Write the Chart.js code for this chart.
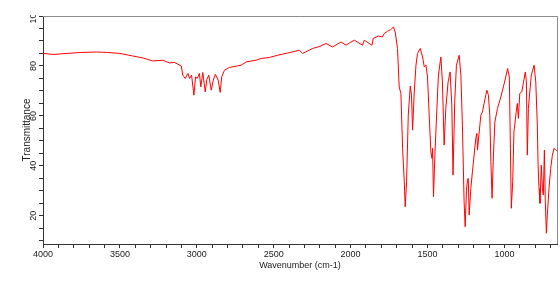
<!DOCTYPE html>
<html>
<head>
<meta charset="utf-8">
<script src="https://cdn.jsdelivr.net/npm/chart.js@4/dist/chart.umd.min.js"></script>
<style>
html,body{margin:0;padding:0;background:#fff;}
#wrap{width:560px;height:283px;}
</style>
</head>
<body>
<div id="wrap"><canvas id="c" width="560" height="283"></canvas></div>
<script>
// Wavenumber (cm-1) and transmittance
const wavenumbers = [4000,3929,3850,3750,3653,3580,3500,3417,3350,3287,3221,3177,3145,3101,3091,3075,3058,3047,3034,3019,3008,2997,2983,2974,2961,2945,2935,2922,2906,2893,2879,2861,2848,2838,2820,2788,2744,2712,2679,2614,2582,2528,2474,2400,2333,2312,2247,2200,2160,2117,2062,2030,2008,1976,1922,1911,1861,1853,1820,1794,1781,1760,1740,1721,1710,1695,1684,1673,1662,1651,1645,1636,1625,1612,1604,1597,1586,1575,1565,1547,1532,1521,1510,1500,1489,1478,1471,1467,1461,1452,1439,1429,1413,1403,1396,1392,1381,1366,1353,1342,1334,1323,1312,1294,1283,1273,1262,1255,1247,1240,1235,1229,1218,1208,1197,1186,1179,1175,1169,1153,1143,1132,1114,1104,1095,1088,1080,1073,1062,1045,1023,1001,979,968,961,955,946,938,923,916,909,900,887,877,864,857,851,844,835,825,807,796,786,781,775,769,760,753,747,740,734,727,721,710,699,688,677,666,658];
const transmittance = [85.0,84.6,85.0,85.4,85.6,85.4,85.0,84.0,83.2,82.0,82.3,81.2,81.4,80.0,76.3,75.0,77.0,75.0,76.3,68.3,75.6,75.0,77.0,71.6,77.4,69.6,74.6,76.3,70.3,74.3,76.6,74.3,69.4,75.6,78.3,79.4,79.9,80.3,81.6,82.3,83.0,83.4,84.3,85.3,86.3,85.0,87.0,87.8,89.0,87.6,89.6,88.3,89.2,90.3,88.3,90.3,88.3,91.0,92.0,91.6,93.0,93.9,94.5,95.6,93.6,87.0,71.6,69.0,47.0,33.6,23.6,33.6,60.3,72.0,68.3,54.3,69.6,80.3,85.0,87.0,83.6,79.6,80.3,75.6,60.3,45.6,43.0,47.0,27.6,44.3,63.0,76.3,83.6,73.6,57.6,48.3,63.0,73.6,77.6,64.3,36.3,65.6,80.3,84.3,76.3,56.3,25.6,15.6,30.0,34.3,35.0,20.3,31.0,37.6,44.3,51.0,53.0,46.3,50.3,60.3,61.6,65.0,70.3,68.3,60.3,41.6,27.0,41.6,57.6,63.0,67.6,73.0,79.0,75.6,47.0,23.0,33.6,53.6,61.6,65.0,59.0,69.0,69.6,73.0,77.6,73.6,44.3,63.0,69.6,76.3,80.3,73.6,56.3,40.3,31.0,25.0,40.3,31.0,28.3,46.3,25.6,13.0,20.3,31.0,39.0,44.3,47.0,46.3,46.0];
const xRange = [658, 4000];
const yRange = [8.7, 100];
const xLabelEvery = 500;
const yLabelEvery = 20;
const xTitle = 'Wavenumber (cm-1)';
const yTitle = 'Transmittance';

const points = wavenumbers.map((w, i) => ({x: w, y: transmittance[i]}));

const clipTop = {
  id: 'clipTop',
  beforeDraw(chart) {
    const ctx = chart.ctx;
    ctx.save();
    ctx.beginPath();
    ctx.rect(0, chart.chartArea.top - 1, chart.width, chart.height);
    ctx.clip();
  },
  beforeDatasetsDraw(chart) { chart.ctx.restore(); }
};
const frame = {
  id: 'frame',
  afterDraw(chart) {
    const {ctx, chartArea: a} = chart;
    ctx.save();
    ctx.strokeStyle = '#8c8c8c';
    ctx.lineWidth = 1;
    ctx.beginPath();
    ctx.moveTo(a.left, a.top + 0.5);
    ctx.lineTo(a.right + 0.5, a.top + 0.5);
    ctx.lineTo(a.right + 0.5, a.bottom);
    ctx.stroke();
    ctx.restore();
  }
};

new Chart(document.getElementById('c'), {
  type: 'line',
  data: {datasets: [{data: points, borderColor: '#ff0000', borderWidth: 1, pointRadius: 0, tension: 0, fill: false}]},
  options: {
    responsive: false, animation: false, devicePixelRatio: 1,
    layout: {padding: {top: 16, right: 3, left: 0, bottom: 0}},
    plugins: {legend: {display: false}, tooltip: {enabled: false}},
    scales: {
      x: {
        type: 'linear', reverse: true, min: xRange[0], max: xRange[1],
        afterFit: s => { s.height = 39; },
        grid: {display: true, drawOnChartArea: false, drawTicks: true, tickLength: 4, color: '#333'},
        border: {display: true, color: '#333'},
        ticks: {stepSize: 100, includeBounds: false, autoSkip: false, maxRotation: 0, minRotation: 0, padding: 1,
          color: '#222', font: {family: 'Liberation Sans', size: 9},
          callback: v => (v % xLabelEvery === 0 ? String(v) : '')},
        title: {display: true, text: xTitle, color: '#222', font: {family: 'Liberation Sans', size: 9}, padding: {top: 0, bottom: 11.6}}
      },
      y: {
        type: 'linear', min: yRange[0], max: yRange[1],
        afterFit: s => { s.width = 43; },
        grid: {display: true, drawOnChartArea: false, drawTicks: true, tickLength: 4, color: '#333'},
        border: {display: true, color: '#333'},
        ticks: {stepSize: 5, includeBounds: false, autoSkip: false, minRotation: 90, maxRotation: 90, crossAlign: 'center', padding: -2.5,
          color: '#222', font: {family: 'Liberation Sans', size: 9},
          callback: v => (v % yLabelEvery === 0 ? String(v) : '')},
        title: {display: true, text: yTitle, color: '#222', font: {family: 'Liberation Sans', size: 10}, padding: {top: 21.5, bottom: 0}}
      }
    }
  },
  plugins: [clipTop, frame]
});
</script>
</body>
</html>
